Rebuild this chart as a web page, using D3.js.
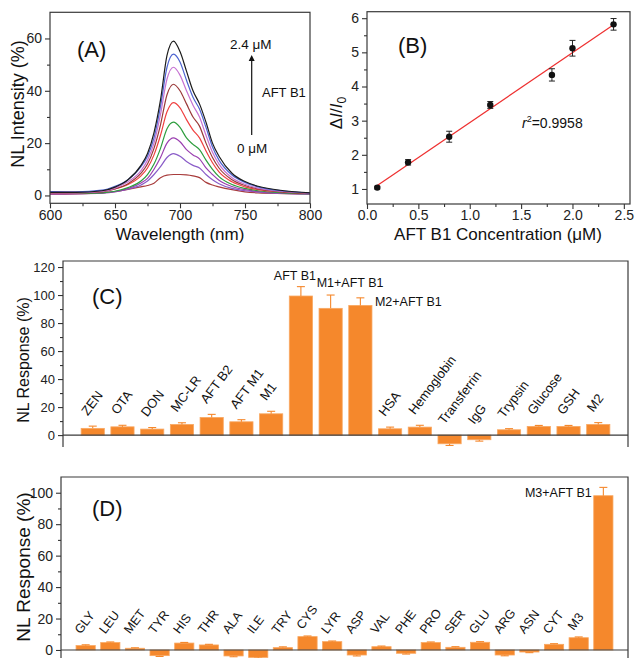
<!DOCTYPE html>
<html>
<head>
<meta charset="utf-8">
<script src="https://cdn.jsdelivr.net/npm/d3@7.9.0/dist/d3.min.js"></script>
<style>
  body { margin: 0; background: #fff; }
  svg { display: block; font-family: "Liberation Sans", Arial, sans-serif; }
  .axis text { fill: #222; }
  .axis line { stroke: #333; }
</style>
</head>
<body>
<svg id="fig" width="635" height="658"></svg>
<script>
// ---- panel A: NL spectra, 0 -> 2.4 uM AFT B1
const wavelengths = [600, 620, 640, 650, 660, 670, 675, 680, 685, 690, 695, 700, 705, 710, 715, 720, 725, 730, 740, 750, 760, 780, 800];
const spec0   = [0.5, 0.6, 1.0, 1.5, 2.3, 3.3, 3.8, 4.7, 6.8, 7.8, 8.0, 8.0, 7.9, 7.5, 6.8, 5.0, 4.0, 3.3, 2.2, 1.4, 1.0, 0.7, 0.5];
const spec1   = [0.7, 0.7, 1.0, 1.5, 2.4, 4.0, 5.5, 8.0, 11, 14.5, 16, 15, 13, 11.5, 10.5, 8.0, 6.0, 4.5, 2.7, 1.8, 1.3, 0.8, 0.6];
const spec2   = [0.6, 0.7, 0.9, 1.4, 2.6, 4.8, 6.5, 10, 14.5, 20, 22, 20.5, 17.5, 15.5, 14, 10.5, 8.0, 5.8, 3.4, 2.2, 1.5, 0.9, 0.6];
const spec3   = [0.8, 0.8, 1.0, 1.6, 3.0, 5.5, 8.0, 12, 18, 25.5, 28, 26, 22, 19.5, 17.5, 13.5, 10, 7.2, 4.2, 2.7, 1.8, 1.0, 0.7];
const spec4   = [1.5, 1.3, 1.7, 2.6, 4.2, 7.5, 10.5, 15.5, 23, 32, 35.5, 33.5, 29, 25, 22, 17, 12.5, 9.0, 5.2, 3.3, 2.2, 1.3, 0.9];
const spec5   = [0.8, 0.9, 1.4, 2.5, 4.5, 8.5, 12, 18, 27, 38.5, 42.5, 40, 35, 30, 26.5, 20, 14.5, 10.5, 6.0, 3.8, 2.5, 1.3, 0.8];
const spec6   = [1.0, 1.0, 1.5, 2.8, 5.2, 9.5, 13.5, 20, 31, 44.5, 49, 46, 40, 34.5, 30, 23, 16.5, 12, 6.8, 4.3, 2.8, 1.5, 0.9];
const spec7   = [1.5, 1.4, 2.0, 3.5, 6.0, 11, 15, 22, 34, 49, 54, 51, 44, 37.5, 33, 26, 18.5, 13.5, 7.8, 5.0, 3.3, 1.7, 1.0];
const spec8   = [1.2, 1.2, 1.8, 3.2, 6.0, 11.5, 16, 24, 36.5, 53.5, 59, 55, 47.5, 40, 35, 28, 20, 15, 8.5, 5.3, 3.5, 1.8, 1.0];
const spectra = [spec0, spec1, spec2, spec3, spec4, spec5, spec6, spec7, spec8];
const specColors = ['#a83c3c', '#8a5cc8', '#9a3fb0', '#2e9e3e', '#f04040', '#9a3a3a', '#c672d2', '#4d63d0', '#1c1c1c'];

// ---- panel B: calibration
const concB  = [0.1, 0.4, 0.8, 1.2, 1.8, 2.0, 2.4];
const ratioB = [1.04, 1.78, 2.53, 3.46, 4.34, 5.12, 5.82];
const errB   = [0.04, 0.08, 0.16, 0.10, 0.18, 0.23, 0.17];

// ---- panel C: interferents
const namesC = ['ZEN', 'OTA', 'DON', 'MC-LR', 'AFT B2', 'AFT M1', 'M1', 'AFT B1', 'M1+AFT B1', 'M2+AFT B1',
                'HSA', 'Hemoglobin', 'Transferrin', 'IgG', 'Trypsin', 'Glucose', 'GSH', 'M2'];
const respC  = [4.8, 5.9, 4.3, 7.6, 12.6, 9.5, 15.2, 99.3, 90.5, 92.6, 4.5, 5.7, -6.2, -3.3, 3.8, 6.2, 6.2, 7.6];
const errC   = [1.6, 1.1, 1.1, 1.2, 2.2, 1.5, 1.8, 6.7, 9.5, 5.4, 1.2, 1.3, 1.2, 1.0, 0.8, 0.7, 0.7, 1.3];

// ---- panel D: amino acids etc.
const namesD = ['GLY', 'LEU', 'MET', 'TYR', 'HIS', 'THR', 'ALA', 'ILE', 'TRY', 'CYS', 'LYR', 'ASP', 'VAL',
                'PHE', 'PRO', 'SER', 'GLU', 'ARG', 'ASN', 'CYT', 'M3', 'M3+AFT B1'];
const respD  = [2.8, 4.7, 1.1, -3.6, 4.4, 3.2, -3.8, -4.7, 1.5, 8.5, 5.3, -3.2, 2.1, -2.1, 4.7, 1.7, 4.9, -3.2, -1.3, 3.6, 7.8, 98.1];
const errD   = [0.5, 0.4, 0.3, 0.5, 0.4, 0.4, 0.5, 0.5, 0.5, 0.4, 0.4, 0.6, 0.4, 0.5, 0.4, 0.4, 0.4, 0.5, 0.4, 0.4, 0.5, 5.3];

const orange = '#f5882c';
const frameColor = '#3a3a3a';
const svg = d3.select('#fig');

function styleAxis(g, size) {
    g.attr('class', 'axis').attr('font-family', null).attr('font-size', size);
    g.select('.domain').remove();
    g.selectAll('line').attr('stroke', '#333').attr('stroke-width', 1.1);
}

function leftAxis(scale, x, majors, minors, size, fmt) {
    svg.append('g').attr('transform', `translate(${x},0)`)
        .call(d3.axisLeft(scale).tickValues(minors).tickSize(3).tickFormat(''))
        .call(g => styleAxis(g, size));
    svg.append('g').attr('transform', `translate(${x},0)`)
        .call(d3.axisLeft(scale).tickValues(majors).tickSize(5).tickPadding(3).tickFormat(fmt || d3.format('d')))
        .call(g => styleAxis(g, size));
}

function bottomAxis(scale, y, majors, minors, size, fmt) {
    svg.append('g').attr('transform', `translate(0,${y})`)
        .call(d3.axisBottom(scale).tickValues(minors).tickSize(3).tickFormat(''))
        .call(g => styleAxis(g, size));
    svg.append('g').attr('transform', `translate(0,${y})`)
        .call(d3.axisBottom(scale).tickValues(majors).tickSize(5).tickPadding(1.5).tickFormat(fmt || d3.format('d')))
        .call(g => styleAxis(g, size));
}

function frame(x0, y0, x1, y1) {
    svg.append('rect').attr('x', x0).attr('y', y0).attr('width', x1 - x0).attr('height', y1 - y0)
        .attr('fill', 'none').attr('stroke', frameColor).attr('stroke-width', 1.2);
}

function panelLetter(txt, x, y) {
    svg.append('text').attr('x', x).attr('y', y).attr('font-size', 22).attr('fill', '#111').text(txt);
}

function yTitle(txt, x, y, size) {
    svg.append('text').attr('transform', `translate(${x},${y}) rotate(-90)`)
        .attr('text-anchor', 'middle').attr('font-size', size).attr('fill', '#111').text(txt);
}

// ================= Panel A =================
const xA = d3.scaleLinear([600, 800], [50, 310]);
const yA = d3.scaleLinear([-3, 70], [203.3, 12.3]);

svg.append('clipPath').attr('id', 'clipA').append('rect')
    .attr('x', 50).attr('y', 12.3).attr('width', 260).attr('height', 191);

const lineA = d3.line()
    .x((d, i) => xA(wavelengths[i]))
    .y(d => yA(d))
    .curve(d3.curveMonotoneX);

svg.append('g').attr('clip-path', 'url(#clipA)')
    .selectAll('path').data(spectra).join('path')
    .attr('d', lineA)
    .attr('fill', 'none')
    .attr('stroke', (d, i) => specColors[i])
    .attr('stroke-width', 1.2);

frame(50, 12.3, 310, 203.3);
bottomAxis(xA, 203.3, [600, 650, 700, 750, 800], [625, 675, 725, 775], 14);
leftAxis(yA, 50, [0, 20, 40, 60], [10, 30, 50], 14);
yTitle('NL Intensity (%)', 24, 104, 18);
svg.append('text').attr('x', 180).attr('y', 240).attr('text-anchor', 'middle')
    .attr('font-size', 17).attr('fill', '#111').text('Wavelength (nm)');
panelLetter('(A)', 77, 57);

// arrow annotation
svg.append('defs').append('marker').attr('id', 'arrowHead')
    .attr('viewBox', '0 0 10 10').attr('refX', 5).attr('refY', 5)
    .attr('markerWidth', 5).attr('markerHeight', 6).attr('orient', 'auto')
    .append('path').attr('d', 'M0,0 L10,5 L0,10 z').attr('fill', '#111');
svg.append('line').attr('x1', 251.7).attr('x2', 251.7).attr('y1', 135).attr('y2', 58)
    .attr('stroke', '#111').attr('stroke-width', 1.2).attr('marker-end', 'url(#arrowHead)');
svg.append('text').attr('x', 230).attr('y', 49).attr('font-size', 13.5).attr('fill', '#111').text('2.4 μM');
svg.append('text').attr('x', 262).attr('y', 97).attr('font-size', 13).attr('fill', '#111').text('AFT B1');
svg.append('text').attr('x', 237).attr('y', 153).attr('font-size', 13.5).attr('fill', '#111').text('0 μM');

// ================= Panel B =================
const xB = d3.scaleLinear([0, 2.56], [367, 630]);
const yB = d3.scaleLinear([0.56, 6.19], [204, 11.7]);

// least squares fit of the calibration points
const mx = d3.mean(concB), my = d3.mean(ratioB);
const slope = d3.sum(concB, (c, i) => (c - mx) * (ratioB[i] - my)) / d3.sum(concB, c => (c - mx) ** 2);
const intercept = my - slope * mx;
const fitEnds = d3.extent(concB);
svg.append('line')
    .attr('x1', xB(fitEnds[0])).attr('y1', yB(intercept + slope * fitEnds[0]))
    .attr('x2', xB(fitEnds[1])).attr('y2', yB(intercept + slope * fitEnds[1]))
    .attr('stroke', '#ee3030').attr('stroke-width', 1.2);

const ptsB = svg.append('g');
concB.forEach((c, i) => {
    const cx = xB(c), yLo = yB(ratioB[i] - errB[i]), yHi = yB(ratioB[i] + errB[i]);
    ptsB.append('line').attr('x1', cx).attr('x2', cx).attr('y1', yLo).attr('y2', yHi)
        .attr('stroke', '#222').attr('stroke-width', 1);
    [yLo, yHi].forEach(yy => ptsB.append('line').attr('x1', cx - 3).attr('x2', cx + 3)
        .attr('y1', yy).attr('y2', yy).attr('stroke', '#222').attr('stroke-width', 1));
    ptsB.append('circle').attr('cx', cx).attr('cy', yB(ratioB[i])).attr('r', 3.2).attr('fill', '#111');
});

frame(367, 11.7, 630, 204);
bottomAxis(xB, 204, [0, 0.5, 1, 1.5, 2, 2.5], [0.25, 0.75, 1.25, 1.75, 2.25], 14, d3.format('.1f'));
leftAxis(yB, 367, [1, 2, 3, 4, 5, 6], [1.5, 2.5, 3.5, 4.5, 5.5], 14);
svg.append('text').attr('x', 498).attr('y', 240).attr('text-anchor', 'middle')
    .attr('font-size', 17).attr('fill', '#111').text('AFT B1 Concentration (μM)');
panelLetter('(B)', 398, 53);

const r2 = svg.append('text').attr('x', 522).attr('y', 128).attr('font-size', 14).attr('fill', '#111');
r2.append('tspan').attr('font-style', 'italic').text('r');
r2.append('tspan').attr('font-size', 9).attr('dy', -6).text('2');
r2.append('tspan').attr('dy', 6).text('=0.9958');

const bt = svg.append('text').attr('transform', 'translate(342,113) rotate(-90)')
    .attr('text-anchor', 'middle').attr('font-size', 17).attr('fill', '#111');
bt.append('tspan').text('Δ');
bt.append('tspan').attr('font-style', 'italic').text('I');
bt.append('tspan').text('/');
bt.append('tspan').attr('font-style', 'italic').text('I');
bt.append('tspan').attr('font-size', 12).attr('dy', 4).text('0');

// ================= bar panels =================
function barPanel(names, resp, err, xs, ys, cfg) {
    const [x0, x1] = xs.range();
    const [yBot, yTop] = ys.range();
    const bw = (xs(1) - xs(0)) * 0.78;
    const g = svg.append('g');

    g.selectAll('rect.bar').data(resp).join('rect')
        .attr('class', 'bar')
        .attr('x', (d, i) => xs(i + 1) - bw / 2)
        .attr('width', bw)
        .attr('y', d => ys(Math.max(0, d)))
        .attr('height', d => Math.abs(ys(d) - ys(0)))
        .attr('fill', orange)
        .attr('stroke', '#f9a862').attr('stroke-width', 0.8);

    resp.forEach((d, i) => {
        const cx = xs(i + 1);
        const tip = d >= 0 ? d + err[i] : d - err[i];
        g.append('line').attr('x1', cx).attr('x2', cx).attr('y1', ys(d)).attr('y2', ys(tip))
            .attr('stroke', orange).attr('stroke-width', 1.1);
        g.append('line').attr('x1', cx - 4).attr('x2', cx + 4).attr('y1', ys(tip)).attr('y2', ys(tip))
            .attr('stroke', orange).attr('stroke-width', 1.1);
    });

    // category labels
    names.forEach((name, i) => {
        const cx = xs(i + 1);
        const special = cfg.special[name];
        if (special) {
            const t = g.append('text').attr('font-size', cfg.specialSize).attr('fill', '#111').text(name);
            if (special === 'above') {
                t.attr('x', cx - 6).attr('y', ys(resp[i] + err[i]) - 7).attr('text-anchor', 'middle');
            } else if (special === 'aboveStart') {
                t.attr('x', cx - 14).attr('y', ys(resp[i] + err[i]) - 8);
            } else if (special === 'right') {
                t.attr('x', cx + bw / 2 + 3).attr('y', ys(resp[i]) + 1);
            } else if (special === 'left') {
                t.attr('x', cx - bw / 2 - 2).attr('y', ys(resp[i]) + 1).attr('text-anchor', 'end');
            }
            return;
        }
        const top = Math.max(resp[i] + err[i], cfg.minTop);
        g.append('text')
            .attr('transform', `translate(${cx - 5},${ys(top) - cfg.gap}) rotate(-53)`)
            .attr('font-size', cfg.labelSize).attr('fill', '#111').text(name);
    });

    // frame: top, right, left axis line, zero line
    svg.append('path')
        .attr('d', `M${x0},${yBot} V${yTop} H${x1} V${yBot}`)
        .attr('fill', 'none').attr('stroke', frameColor).attr('stroke-width', 1.2);
    svg.append('line').attr('x1', x0).attr('x2', x1).attr('y1', ys(0)).attr('y2', ys(0))
        .attr('stroke', frameColor).attr('stroke-width', 1.2);
}

// Panel C
const xC = d3.scaleLinear([0, 19], [63, 628]);
const yC = d3.scaleLinear([-8.5, 124.3], [447, 261]);
barPanel(namesC, respC, errC, xC, yC, {
    labelSize: 13, specialSize: 12.5, gap: 10, minTop: 0,
    special: { 'AFT B1': 'above', 'M1+AFT B1': 'aboveStart', 'M2+AFT B1': 'right' }
});
leftAxis(yC, 63, d3.range(0, 121, 20), d3.range(10, 120, 20), 13);
yTitle('NL Response (%)', 29, 360, 16);
panelLetter('(C)', 92, 304);

// Panel D
const xD = d3.scaleLinear([0, 23], [61, 628]);
const yD = d3.scaleLinear([-5.1, 110], [658, 477]);
barPanel(namesD, respD, errD, xD, yD, {
    labelSize: 12.5, specialSize: 12.5, gap: 6, minTop: 6,
    special: { 'M3+AFT B1': 'left' }
});
leftAxis(yD, 61, d3.range(0, 101, 20), d3.range(10, 110, 20), 14);
yTitle('NL Response (%)', 30, 567, 19);
panelLetter('(D)', 92, 516);
</script>
</body>
</html>
